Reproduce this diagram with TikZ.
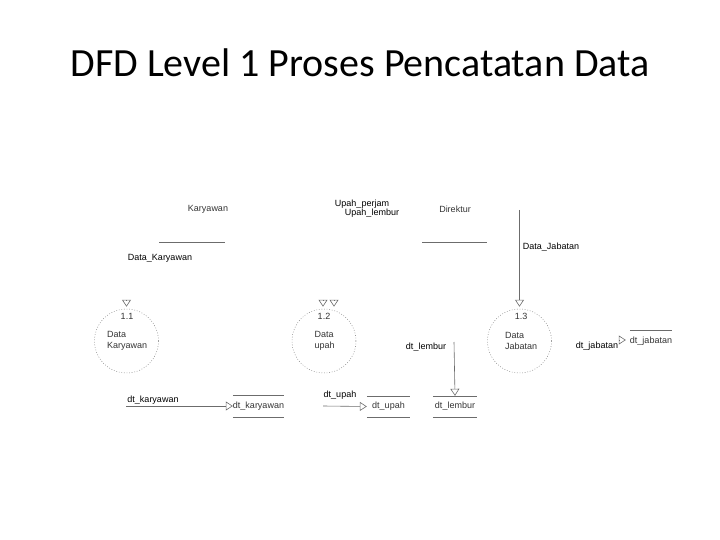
\documentclass[tikz,border=0pt]{standalone}
\usepackage{fontspec}
\setmainfont{Carlito}
\newfontfamily\dfdfont{Liberation Sans}
\usetikzlibrary{arrows.meta, positioning, calc}

\begin{document}
\begin{tikzpicture}[
    x=1pt, y=-1pt,
    lbl/.style={font=\dfdfont\fontsize{9}{11}\selectfont, text=black!80, inner sep=0pt, align=center},
    flowlbl/.style={lbl, text=black},
    proc/.style={draw=gray, dash pattern=on 0.8pt off 1.8pt, line width=0.5pt, circle, minimum size=64pt, inner sep=0pt},
    store/.style={lbl, minimum width=44pt, minimum height=21pt},
    line/.style={draw=gray!85!black, line width=0.6pt},
    arr/.style={line, -{Triangle[open, length=7pt, width=9pt]}}
]
\useasboundingbox (0,0) rectangle (720,540);

\node[font=\fontsize{40}{44}\selectfont, anchor=base] (title) at (360,77) {DFD Level 1 Proses Pencatatan Data};

% external entities
\node[lbl] (karyawan) at (208,209) {Karyawan};
\coordinate (karyawanL) at (159,242);
\coordinate (karyawanR) at (225,242);
\node[lbl] (direktur) at (455,209) {Direktur};
\coordinate (direkturL) at (422,242);
\coordinate (direkturR) at (487,242);
\draw[line] (karyawanL) -- (karyawanR);
\draw[line] (direkturL) -- (direkturR);

\node[flowlbl] (upahperjam) at (362,204) {Upah\_perjam};
\node[flowlbl] (upahlembur) at (372,213) {Upah\_lembur};
\node[flowlbl] (datakar) at (160,258) {Data\_Karyawan};
\node[flowlbl] (datajab) at (551,247) {Data\_Jabatan};

% processes
\node[proc] (p11) at (126.5,341) {};
\node[lbl] (n11) at (127,316) {1.1};
\node[lbl, align=left, anchor=west] (t11) at (107,340.5) {Data\\Karyawan};
\node[proc] (p12) at (324,341) {};
\node[lbl] (n12) at (324,316) {1.2};
\node[lbl, align=left, anchor=west] (t12) at (314.5,340.5) {Data\\upah};
\node[proc] (p13) at (519.5,341) {};
\node[lbl] (n13) at (521,316) {1.3};
\node[lbl, align=left, anchor=west] (t13) at (505,340.5) {Data\\Jabatan};

% data stores
\node[store, minimum width=45pt, minimum height=22pt] (dtkar) at (258.5,406) {dt\_karyawan};
\node[store, minimum width=43pt] (dtupah) at (388.5,406.5) {dt\_upah};
\node[store] (dtlembur) at (455,406.5) {dt\_lembur};
\node[store, minimum width=42pt, minimum height=22pt] (dtjab) at (651,341) {dt\_jabatan};
\draw[line] (dtkar.north west) -- (dtkar.north east) (dtkar.south west) -- (dtkar.south east);
\draw[line] (dtupah.north west) -- (dtupah.north east) (dtupah.south west) -- (dtupah.south east);
\draw[line] (dtlembur.north west) -- (dtlembur.north east) (dtlembur.south west) -- (dtlembur.south east);
\draw[line] (dtjab.north west) -- (dtjab.north east);

% flows
\coordinate (dirout) at (519.5,210);
\coordinate (karout) at (126,406);
\coordinate (upahout) at (323,406);
\coordinate (lemburin) at (454,342);
\draw[arr] (dirout) -- ($(p13.north)+(0,-2)$);
\draw[arr] ($(p11.north)+(0,-9)$) -- ($(p11.north)+(0,-2)$);
\draw[arr] ($(p12.north)+(-1,-9)$) -- ($(p12.north)+(-1,-2)$);
\draw[arr] ($(p12.north)+(10,-9)$) -- ($(p12.north)+(10,-2)$);
\draw[arr] (karout) -- (dtkar.west);
\draw[arr] (upahout) -- (dtupah.west);
\draw[arr] (lemburin) -- (dtlembur.north);
\draw[arr] ($(dtjab.west)+(-11,-1)$) -- ($(dtjab.west)+(-4,-1)$);

\node[flowlbl] (lblkar) at (153,400) {dt\_karyawan};
\node[flowlbl] (lblupah) at (340,395) {dt\_upah};
\node[flowlbl] (lbllembur) at (426,347) {dt\_lembur};
\node[flowlbl] (lbljab) at (597,346) {dt\_jabatan};
\end{tikzpicture}
\end{document}
